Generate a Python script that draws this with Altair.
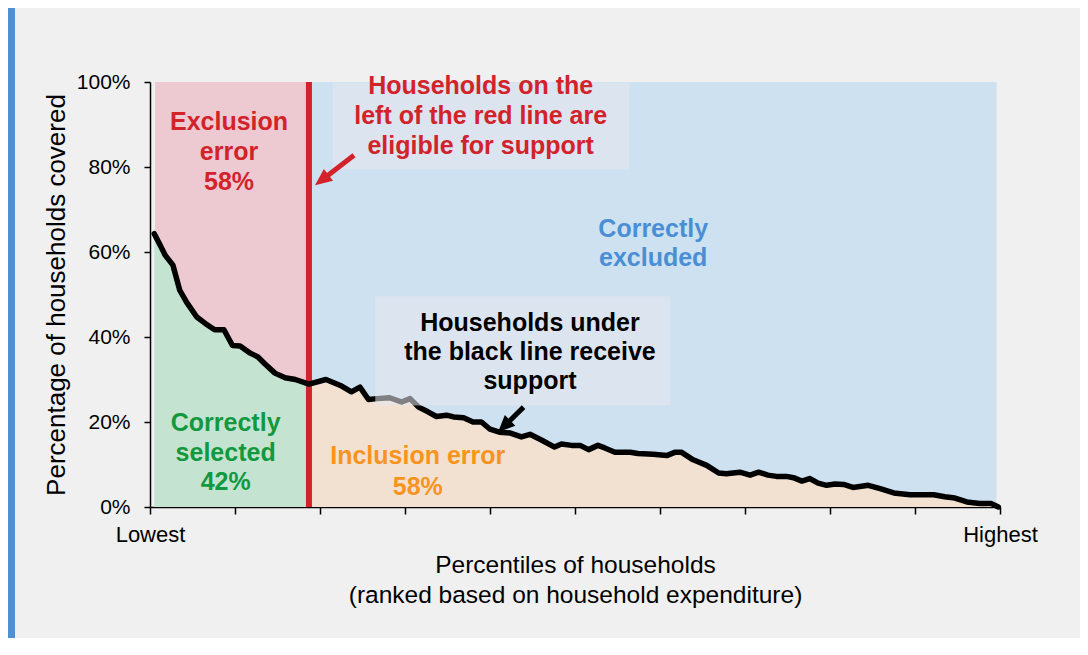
import altair as alt
import pandas as pd

# ---------------- data ----------------
pct = [0.5, 1.2, 1.8, 2.7, 3.5, 4.3, 5.5, 6.5, 7.6, 8.7, 9.7, 10.6, 11.8, 12.7, 13.5,
       14.7, 15.9, 17.1, 18.7, 20.7, 22.4, 23.7, 24.7, 25.7, 26.7, 28.2, 29.6, 30.6,
       31.6, 32.7, 33.7, 34.9, 35.7, 36.9, 38.0, 39.0, 40.0, 41.1, 42.4, 43.7, 44.7,
       46.1, 47.6, 48.4, 49.6, 50.6, 51.6, 52.7, 53.5, 54.7, 56.5, 57.4, 59.2, 60.8,
       61.8, 62.5, 63.9, 65.5, 66.9, 67.8, 69.4, 70.6, 71.6, 72.7, 73.7, 74.9, 75.7,
       76.7, 77.6, 78.6, 79.6, 80.6, 81.6, 82.7, 84.5, 85.9, 87.5, 89.4, 92.2, 93.5,
       94.7, 96.1, 97.6, 99.0, 99.8]
covered = [64.3, 61.6, 59.2, 56.9, 51.0, 48.2, 44.7, 43.2, 41.7, 41.7, 38.0, 37.9, 36.2,
           35.3, 33.7, 31.5, 30.4, 30.0, 28.9, 30.0, 28.6, 27.1, 28.2, 25.3, 25.5, 25.7,
           24.7, 25.5, 23.5, 22.4, 21.3, 21.6, 21.2, 21.0, 20.0, 20.0, 18.3, 17.6, 17.4,
           16.5, 17.1, 15.7, 14.1, 14.8, 14.5, 14.5, 13.5, 14.5, 13.9, 12.9, 12.9, 12.6,
           12.4, 12.1, 12.9, 12.9, 11.1, 9.8, 8.0, 7.8, 8.2, 7.5, 8.2, 7.5, 7.2, 7.2, 6.9,
           6.1, 6.7, 5.6, 5.1, 5.4, 5.3, 4.6, 5.1, 4.3, 3.3, 2.9, 2.9, 2.4, 2.1, 1.2, 0.8,
           0.8, 0.0]

eligibility_cutoff = 18.7
region_start = 0.6
region_end = 99.6

y_ticks = [0, 20, 40, 60, 80, 100]
x_ticks = [0, 10, 20, 30, 40, 50, 60, 70, 80, 90, 100]
x_end_labels = ["Lowest", "Highest"]
x_title = ["Percentiles of households", "(ranked based on household expenditure)"]
y_title = "Percentage of households covered"

RED = "#d2232a"
BLUE_TXT = "#4a8fd5"
GREEN_TXT = "#12993f"
ORANGE_TXT = "#f7941d"
FONT = "Liberation Sans"

# annotation lines: text, x, y, colour
ann_text = ["Exclusion", "error", "58%",
            "Households on the", "left of the red line are", "eligible for support",
            "Correctly", "excluded",
            "Households under", "the black line receive", "support",
            "Correctly", "selected", "42%",
            "Inclusion error", "58%"]
ann_x = [9.3, 9.3, 9.3,
         38.9, 38.9, 38.9,
         59.2, 59.2,
         44.7, 44.7, 44.7,
         8.9, 8.9, 8.9,
         31.5, 31.5]
ann_y = [90.6, 83.5, 76.5,
         99.0, 91.9, 84.9,
         65.5, 58.5,
         43.4, 36.4, 29.6,
         19.7, 12.8, 5.8,
         11.9, 4.8]
ann_col = [RED] * 3 + [RED] * 3 + [BLUE_TXT] * 2 + ["#000000"] * 3 + [GREEN_TXT] * 3 + [ORANGE_TXT] * 2

# ---------------- tables ----------------
curve = pd.DataFrame({"x": pct, "y": covered})
left = curve[curve.x <= eligibility_cutoff]
right = curve[curve.x >= eligibility_cutoff]

regions = pd.DataFrame({
    "x": [region_start, eligibility_cutoff],
    "x2": [eligibility_cutoff, region_end],
    "y": [0, 0], "y2": [100, 100],
    "fill": ["#edc9d1", "#cee1f0"],
})

boxes = pd.DataFrame({
    "x": [21.5, 26.5], "x2": [56.4, 61.2],
    "y": [79.4, 23.9], "y2": [99.9, 49.6],
})

ann = pd.DataFrame({"t": ann_text, "x": ann_x, "y": ann_y, "c": ann_col})

shafts = pd.DataFrame({
    "x": [24.0, 43.95], "y": [82.75, 23.5],
    "x2": [20.34, 41.78], "y2": [77.1, 19.22],
    "c": [RED, "#000000"],
})
heads = pd.DataFrame({
    "x": [19.41, 40.94], "y": [75.7, 17.58],
    "a": [232.4, 225.4], "c": [RED, "#000000"],
})
cutoff = pd.DataFrame({"x": [eligibility_cutoff], "y": [0], "y2": [100]})

# ---------------- encodings ----------------
xs = alt.Scale(domain=[0, 100], nice=False, zero=False)
ys = alt.Scale(domain=[0, 100], nice=False)

xaxis = alt.Axis(
    values=x_ticks,
    labelExpr=f"datum.value == 0 ? '{x_end_labels[0]}' : datum.value == 100 ? '{x_end_labels[1]}' : ''",
    title=x_title, grid=False, tickSize=7, tickWidth=1.5, domainWidth=1.5,
    domainColor="#000", tickColor="#000", labelColor="#000", titleColor="#000",
    labelFont=FONT, labelFontSize=22, labelPadding=10, labelFlush=False,
    labelOverlap=False, titleFont=FONT, titleFontSize=24.5, titleFontWeight="normal",
    titleLineHeight=30, titlePadding=8,
)
yaxis = alt.Axis(
    values=y_ticks, labelExpr="datum.value + '%'", title=y_title, grid=False,
    tickSize=6, tickWidth=1.5, domainWidth=1.5, domainColor="#000", tickColor="#000",
    labelColor="#000", titleColor="#000", labelFont=FONT, labelFontSize=21,
    labelPadding=14, titleFont=FONT, titleFontSize=26, titleFontWeight="normal",
    titlePadding=7,
)
X = alt.X("x:Q", scale=xs, axis=xaxis)
Y = alt.Y("y:Q", scale=ys, axis=yaxis)

# ---------------- layers ----------------
sidebar = alt.Chart(pd.DataFrame({"k": [0]})).mark_rect(color="#4f8fd3").encode(
    x=alt.value(-142), x2=alt.value(-135), y=alt.value(-74), y2=alt.value(556)
)

region_layer = alt.Chart(regions).mark_rect().encode(
    x=X, x2="x2:Q", y=Y, y2="y2:Q", color=alt.Color("fill:N", scale=None)
)
green_area = alt.Chart(left).mark_area(color="#c5e3d1", opacity=1).encode(x=X, y=Y)
peach_area = alt.Chart(right).mark_area(color="#f2e1d1", opacity=1).encode(x=X, y=Y)

cut_line = alt.Chart(cutoff).mark_rule(color=RED, strokeWidth=6).encode(x=X, y=Y, y2="y2:Q")

line = alt.Chart(curve).mark_line(color="#000", strokeWidth=5.5, strokeJoin="round",
                                  strokeCap="round").encode(x=X, y=Y)

box_layer = alt.Chart(boxes).mark_rect(color="#e7e7f0", opacity=0.55).encode(
    x=X, x2="x2:Q", y=Y, y2="y2:Q"
)

text_layer = alt.Chart(ann).mark_text(font=FONT, fontSize=25, fontWeight="bold",
                                      align="center", baseline="middle").encode(
    x=X, y=Y, text="t:N", color=alt.Color("c:N", scale=None)
)

shaft_layer = alt.Chart(shafts).mark_rule(strokeWidth=5).encode(
    x=X, y=Y, x2="x2:Q", y2="y2:Q", color=alt.Color("c:N", scale=None)
)
head_layer = alt.Chart(heads).mark_point(
    shape="M0,0 L0.75,1.7 L-0.75,1.7 Z", filled=True, size=400, opacity=1
).encode(x=X, y=Y, angle=alt.Angle("a:Q", scale=None), color=alt.Color("c:N", scale=None))

chart = alt.layer(
    sidebar, region_layer, green_area, peach_area, cut_line, line,
    box_layer, text_layer, shaft_layer, head_layer
).properties(
    width=850, height=425,
    autosize=alt.AutoSizeParams(type="none"),
    padding={"left": 142, "top": 74, "right": 80, "bottom": 131},
    background="#f0f0f0",
).configure_view(stroke=None)

chart.save("out.html", embed_options={"renderer": "svg", "actions": False})
